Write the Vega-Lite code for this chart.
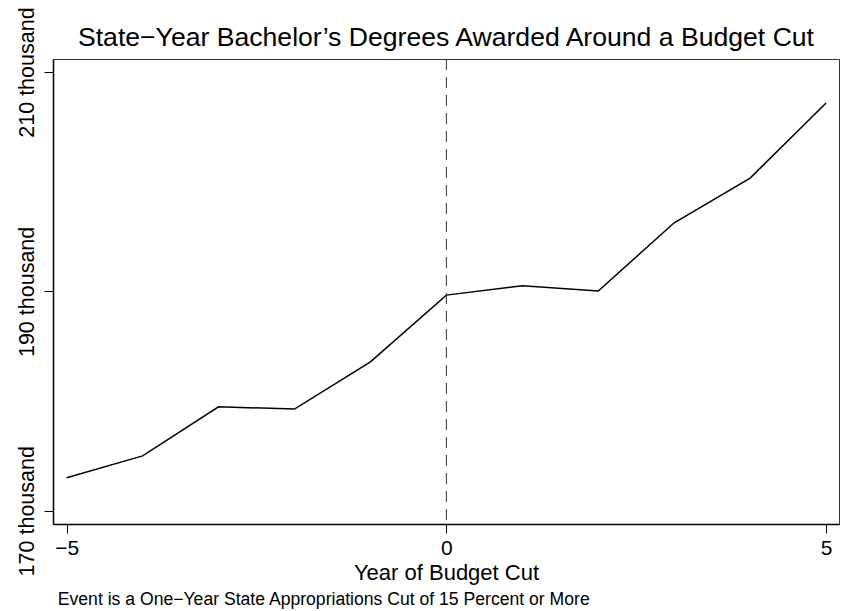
{
  "$schema": "https://vega.github.io/schema/vega-lite/v6.json",
  "autosize": {"type": "none"},
  "padding": {"left": 53, "top": 59, "right": 2, "bottom": 87},
  "width": 786,
  "height": 465,
  "background": "white",
  "title": {
    "text": "State−Year Bachelor’s Degrees Awarded Around a Budget Cut",
    "anchor": "middle",
    "frame": "group",
    "baseline": "alphabetic",
    "offset": -66,
    "fontSize": 26.6,
    "fontWeight": "normal",
    "font": "Liberation Sans",
    "color": "black"
  },
  "datasets": {
    "degrees": [
      {"year": -5, "degrees": 173000},
      {"year": -4, "degrees": 175000},
      {"year": -3, "degrees": 179480},
      {"year": -2, "degrees": 179270},
      {"year": -1, "degrees": 183580},
      {"year": 0, "degrees": 189660},
      {"year": 1, "degrees": 190520},
      {"year": 2, "degrees": 190030},
      {"year": 3, "degrees": 196260},
      {"year": 4, "degrees": 200330},
      {"year": 5, "degrees": 207170}
    ],
    "cut": [{"year": 0}]
  },
  "layer": [
    {
      "data": {"name": "degrees"},
      "mark": {"type": "line", "color": "black", "strokeWidth": 1.5},
      "encoding": {
        "x": {
          "field": "year",
          "type": "quantitative",
          "scale": {"domain": [-5.18, 5.17], "nice": false, "zero": false},
          "axis": {
            "title": "Year of Budget Cut",
            "values": [-5, 0, 5],
            "format": "d",
            "grid": false,
            "tickSize": 9,
            "labelPadding": 4,
            "titlePadding": 4,
            "labelFontSize": 21,
            "titleFontSize": 22
          }
        },
        "y": {
          "field": "degrees",
          "type": "quantitative",
          "scale": {"domain": [168790, 211190], "nice": false, "zero": false},
          "axis": {
            "title": null,
            "values": [170000, 190000, 210000],
            "labelExpr": "format(datum.value / 1000, 'd') + ' thousand'",
            "grid": false,
            "tickSize": 9,
            "labelAngle": -90,
            "labelAlign": "center",
            "labelBaseline": "alphabetic",
            "labelPadding": 10.5,
            "labelFontSize": 21.5
          }
        }
      }
    },
    {
      "data": {"name": "cut"},
      "mark": {"type": "rule", "color": "#333333", "strokeWidth": 1, "strokeDash": [11, 7]},
      "encoding": {
        "x": {
          "field": "year",
          "type": "quantitative",
          "scale": {"domain": [-5.18, 5.17], "nice": false, "zero": false},
          "axis": {
            "orient": "bottom",
            "title": "Event is a One−Year State Appropriations Cut of 15 Percent or More",
            "labels": false,
            "ticks": false,
            "domain": false,
            "grid": false,
            "titleFontSize": 17.6,
            "titleAlign": "left",
            "titleAnchor": "start",
            "titleBaseline": "alphabetic",
            "titleX": 4.3,
            "titleY": 80
          }
        }
      }
    }
  ],
  "resolve": {"axis": {"x": "independent"}},
  "config": {
    "font": "Liberation Sans",
    "view": {"stroke": "#333333", "strokeWidth": 1},
    "axis": {
      "domainColor": "black",
      "domainWidth": 1.5,
      "tickColor": "black",
      "tickWidth": 1,
      "labelColor": "black",
      "titleColor": "black",
      "labelFont": "Liberation Sans",
      "titleFont": "Liberation Sans",
      "titleFontWeight": "normal",
      "labelFlush": false,
      "labelOverlap": false
    }
  }
}
